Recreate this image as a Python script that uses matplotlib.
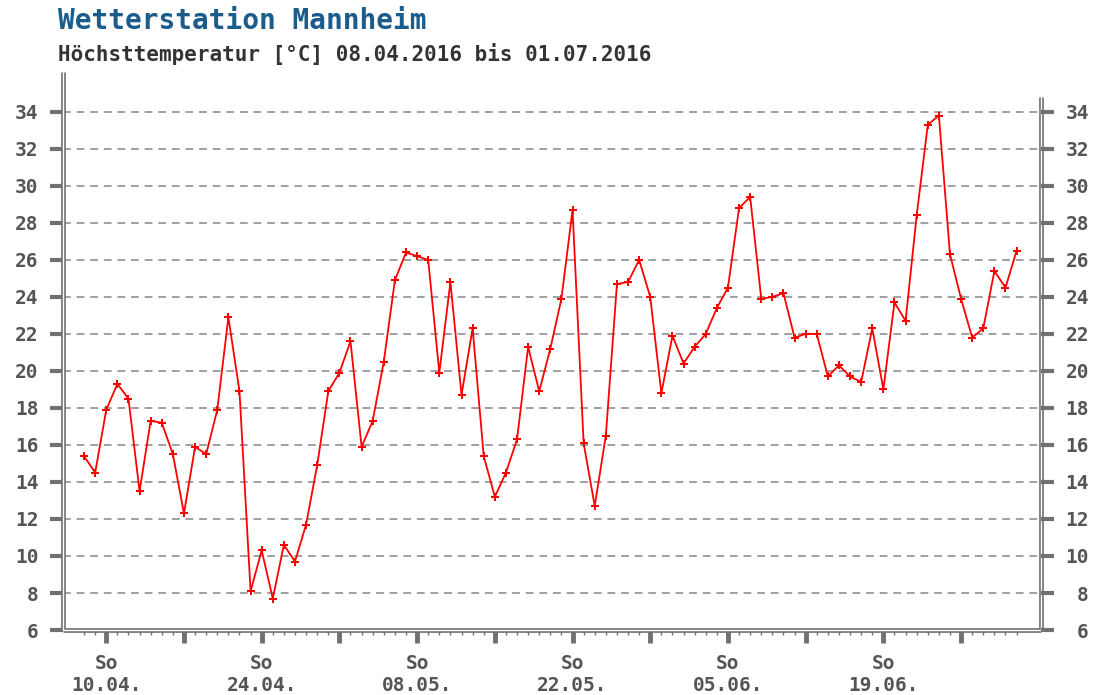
import matplotlib
matplotlib.use("Agg")
import matplotlib.pyplot as plt

# Hoechsttemperatur Mannheim, 08.04.2016 - 01.07.2016 (one value per day)
temps = [15.4, 14.5, 17.9, 19.3, 18.5, 13.5, 17.3, 17.2, 15.5, 12.3,
         15.9, 15.5, 17.9, 22.9, 18.9, 8.1, 10.3, 7.7, 10.6, 9.7,
         11.7, 14.9, 18.9, 19.9, 21.6, 15.9, 17.3, 20.5, 24.9, 26.4,
         26.2, 26.0, 19.9, 24.8, 18.7, 22.3, 15.4, 13.2, 14.5, 16.3,
         21.3, 18.9, 21.2, 23.9, 28.7, 16.1, 12.7, 16.5, 24.7, 24.8,
         26.0, 24.0, 18.8, 21.9, 20.4, 21.3, 22.0, 23.4, 24.5, 28.8,
         29.4, 23.9, 24.0, 24.2, 21.8, 22.0, 22.0, 19.7, 20.3, 19.7,
         19.4, 22.3, 19.0, 23.7, 22.7, 28.4, 33.3, 33.8, 26.3, 23.9,
         21.8, 22.3, 25.4, 24.5, 26.5]
days = list(range(len(temps)))

sundays = [2, 9, 16, 23, 30, 37, 44, 51, 58, 65, 72, 79]
sunday_labels = ["So\n10.04.", "", "So\n24.04.", "", "So\n08.05.", "",
                 "So\n22.05.", "", "So\n05.06.", "", "So\n19.06.", ""]
yticks = [6, 8, 10, 12, 14, 16, 18, 20, 22, 24, 26, 28, 30, 32, 34]

gray = "#707070"
labelgray = "#555555"

fig = plt.figure(figsize=(10.95, 6.95), dpi=100)
ax = fig.add_axes([0.0575, 0.0935, 0.8932, 0.7669])

ax.set_xlim(-1.9, 86.2)
ax.set_ylim(6, 34.8)

for y in yticks[1:]:
    ax.axhline(y, color="#a0a0a0", lw=1.4, ls=(0, (4, 3)), zorder=1)

ax.plot(days, temps, color="#ff0000", lw=1.3, marker="P", markersize=5.5,
        markeredgewidth=0, zorder=3)

# right axis: same scale, labels right-aligned like the original
ax2 = ax.twinx()
ax2.set_ylim(ax.get_ylim())

for a in (ax, ax2):
    for s in a.spines.values():
        s.set_visible(False)

# double frame lines
frame = [([0, 0], [0, 1.047]), ([1, 1], [0, 1.0]), ([0, 1], [0, 0])]
for xs, ys in frame:
    ax.plot(xs, ys, transform=ax.transAxes, color=gray, lw=3.4,
            clip_on=False, zorder=4, solid_capstyle="butt")
    ax.plot(xs, ys, transform=ax.transAxes, color="white", lw=1.0,
            clip_on=False, zorder=5, solid_capstyle="butt")

ax.set_yticks(yticks)
ax.set_yticklabels([str(v) for v in yticks])
ax.tick_params(axis="y", direction="out", length=9.5, width=3,
               color=gray, pad=8, labelsize=14, labelcolor=labelgray)
ax2.set_yticks(yticks)
ax2.set_yticklabels([str(v) for v in yticks])
ax2.tick_params(axis="y", direction="out", length=9.5, width=3,
                color=gray, pad=25, labelsize=14, labelcolor=labelgray)
for lab in ax.get_yticklabels() + ax2.get_yticklabels():
    lab.set_fontfamily("DejaVu Sans Mono")
    lab.set_fontweight("bold")
for lab in ax2.get_yticklabels():
    lab.set_horizontalalignment("right")

ax.set_xticks(sundays)
ax.set_xticklabels(sunday_labels)
ax.set_xticks([d for d in days if d not in sundays], minor=True)
ax.tick_params(axis="x", which="major", direction="out", length=9,
               width=3.5, color=gray, pad=8, labelsize=14,
               labelcolor=labelgray)
ax.tick_params(axis="x", which="minor", direction="out", length=3.8,
               width=1, color=gray)
for lab in ax.get_xticklabels():
    lab.set_fontfamily("DejaVu Sans Mono")
    lab.set_fontweight("bold")
    lab.set_linespacing(1.2)

fig.text(0.053, 0.970, "Wetterstation Mannheim", fontsize=20,
         fontfamily="DejaVu Sans Mono", fontweight="bold",
         color="#1a5c8c", va="center")
fig.text(0.053, 0.923, "Höchsttemperatur [°C] 08.04.2016 bis 01.07.2016",
         fontsize=15, fontfamily="DejaVu Sans Mono", fontweight="bold",
         color="#333333", va="center")

fig.savefig("out.png", dpi=100)
